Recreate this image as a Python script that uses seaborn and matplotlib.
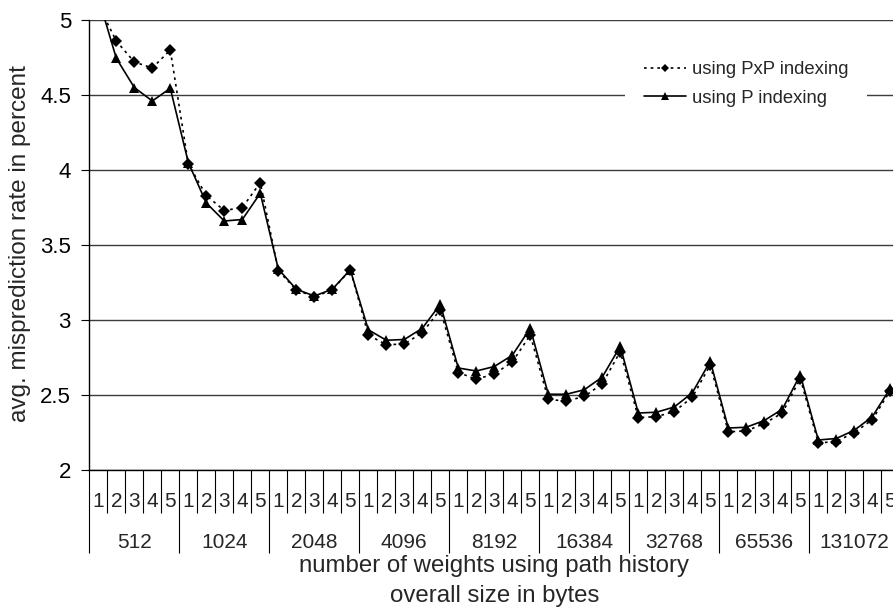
import numpy as np
import pandas as pd
import matplotlib
matplotlib.use("Agg")
import matplotlib.pyplot as plt
import matplotlib.transforms as mtransforms
import seaborn as sns

# Predictor sizes (overall bytes) and path history lengths per size
sizes = ["512", "1024", "2048", "4096", "8192", "16384", "32768", "65536", "131072"]
path_lengths = ["1", "2", "3", "4", "5"]

# Average misprediction rate (%) for each size / path-length combination
pxp_rate = [5.10, 4.86, 4.72, 4.68, 4.80,
            4.04, 3.83, 3.73, 3.75, 3.915,
            3.33, 3.20, 3.155, 3.20, 3.335,
            2.90, 2.835, 2.84, 2.915, 3.07,
            2.65, 2.605, 2.64, 2.72, 2.90,
            2.47, 2.46, 2.49, 2.575, 2.79,
            2.35, 2.355, 2.39, 2.485, 2.70,
            2.255, 2.26, 2.31, 2.38, 2.61,
            2.18, 2.19, 2.25, 2.335, 2.53]
p_rate = [5.15, 4.745, 4.55, 4.46, 4.545,
          4.05, 3.78, 3.66, 3.67, 3.845,
          3.34, 3.205, 3.16, 3.205, 3.335,
          2.935, 2.865, 2.87, 2.945, 3.105,
          2.68, 2.66, 2.69, 2.765, 2.945,
          2.505, 2.505, 2.535, 2.62, 2.825,
          2.38, 2.385, 2.42, 2.515, 2.725,
          2.28, 2.285, 2.33, 2.405, 2.635,
          2.20, 2.21, 2.265, 2.355, 2.545]

series_labels = ["using PxP indexing", "using P indexing"]
y_ticks = [2, 2.5, 3, 3.5, 4, 4.5, 5]
y_tick_labels = ["2", "2.5", "3", "3.5", "4", "4.5", "5"]

n_len = len(path_lengths)
pos = np.arange(len(sizes) * n_len)
df = pd.DataFrame({
    "pos": np.concatenate([pos, pos]),
    "rate": pxp_rate + p_rate,
    "series": [series_labels[0]] * len(pos) + [series_labels[1]] * len(pos),
})

sns.set_style("white")
plt.rcParams["font.family"] = ["Liberation Sans", "DejaVu Sans"]

W, H = 893, 608
fig = plt.figure(figsize=(W / 100, H / 100), dpi=100)
ax_left, ax_top, ax_w, ax_h = 89.3, 20, 810, 450
ax = fig.add_axes([ax_left / W, 1 - (ax_top + ax_h) / H, ax_w / W, ax_h / H])

sns.lineplot(data=df[df.series == series_labels[0]], x="pos", y="rate", ax=ax,
             color="black", marker="D", markersize=6, markeredgewidth=0,
             linewidth=1.2, linestyle=(0, (1.6, 2.4)), label=series_labels[0])
sns.lineplot(data=df[df.series == series_labels[1]], x="pos", y="rate", ax=ax,
             color="black", marker="^", markersize=7.5, markeredgewidth=0,
             linewidth=1.2, label=series_labels[1])

ax.set_xlim(-0.5, len(pos) - 0.5)
ax.set_ylim(2, 5)

# horizontal grid
ax.set_yticks(y_ticks)
ax.set_yticklabels(y_tick_labels, fontsize=16)
ax.yaxis.grid(True, color="#3c3c3c", linewidth=1.0)
ax.xaxis.grid(False)
ax.set_axisbelow(True)

for side in ["top", "right"]:
    ax.spines[side].set_visible(False)
for side in ["left", "bottom"]:
    ax.spines[side].set_color("black")
    ax.spines[side].set_linewidth(1.0)

ax.tick_params(axis="y", which="major", left=True, length=5.8, width=0.8,
               pad=7.4, color="black", labelcolor="black")

# category separators: long ticks between sizes, short ticks between path lengths
group_edges = np.arange(len(sizes) + 1) * n_len - 0.5
cell_edges = [e for e in np.arange(len(pos) + 1) - 0.5 if e not in set(group_edges)]
ax.set_xticks(group_edges)
ax.set_xticklabels([])
ax.set_xticks(cell_edges, minor=True)
ax.tick_params(axis="x", which="major", bottom=True, length=60, width=0.8,
               color="black", direction="out")
ax.tick_params(axis="x", which="minor", bottom=True, length=31, width=0.8,
               color="black", direction="out")
ax.set_xlabel("")
ax.set_ylabel("")

trans = mtransforms.blended_transform_factory(ax.transData, ax.transAxes)
for i in pos:
    ax.text(i, -37 / ax_h, path_lengths[i % n_len], transform=trans,
            ha="center", va="baseline", fontsize=15, clip_on=False)
for g, name in enumerate(sizes):
    ax.text(g * n_len + (n_len - 1) / 2, -78 / ax_h, name, transform=trans,
            ha="center", va="baseline", fontsize=15, clip_on=False)

cx = (ax_left + ax_w / 2) / W
fig.text(cx, 1 - 572 / H, "number of weights using path history",
         ha="center", va="baseline", fontsize=17.3)
fig.text(cx, 1 - 602 / H, "overall size in bytes",
         ha="center", va="baseline", fontsize=17.3)
fig.text(20 / W, 1 - 244 / H, "avg. misprediction rate in percent",
         rotation=90, ha="center", va="center", fontsize=17.5)

leg = ax.legend(loc="center", bbox_to_anchor=(746 / W, 1 - 84 / H),
                bbox_transform=fig.transFigure, fontsize=13.3, frameon=True,
                fancybox=False, framealpha=1, edgecolor="none",
                facecolor="white", handlelength=2.3, handletextpad=0.3,
                borderpad=1.0, labelspacing=0.6, numpoints=1, markerscale=0.75)

fig.savefig("out.png", dpi=100)
